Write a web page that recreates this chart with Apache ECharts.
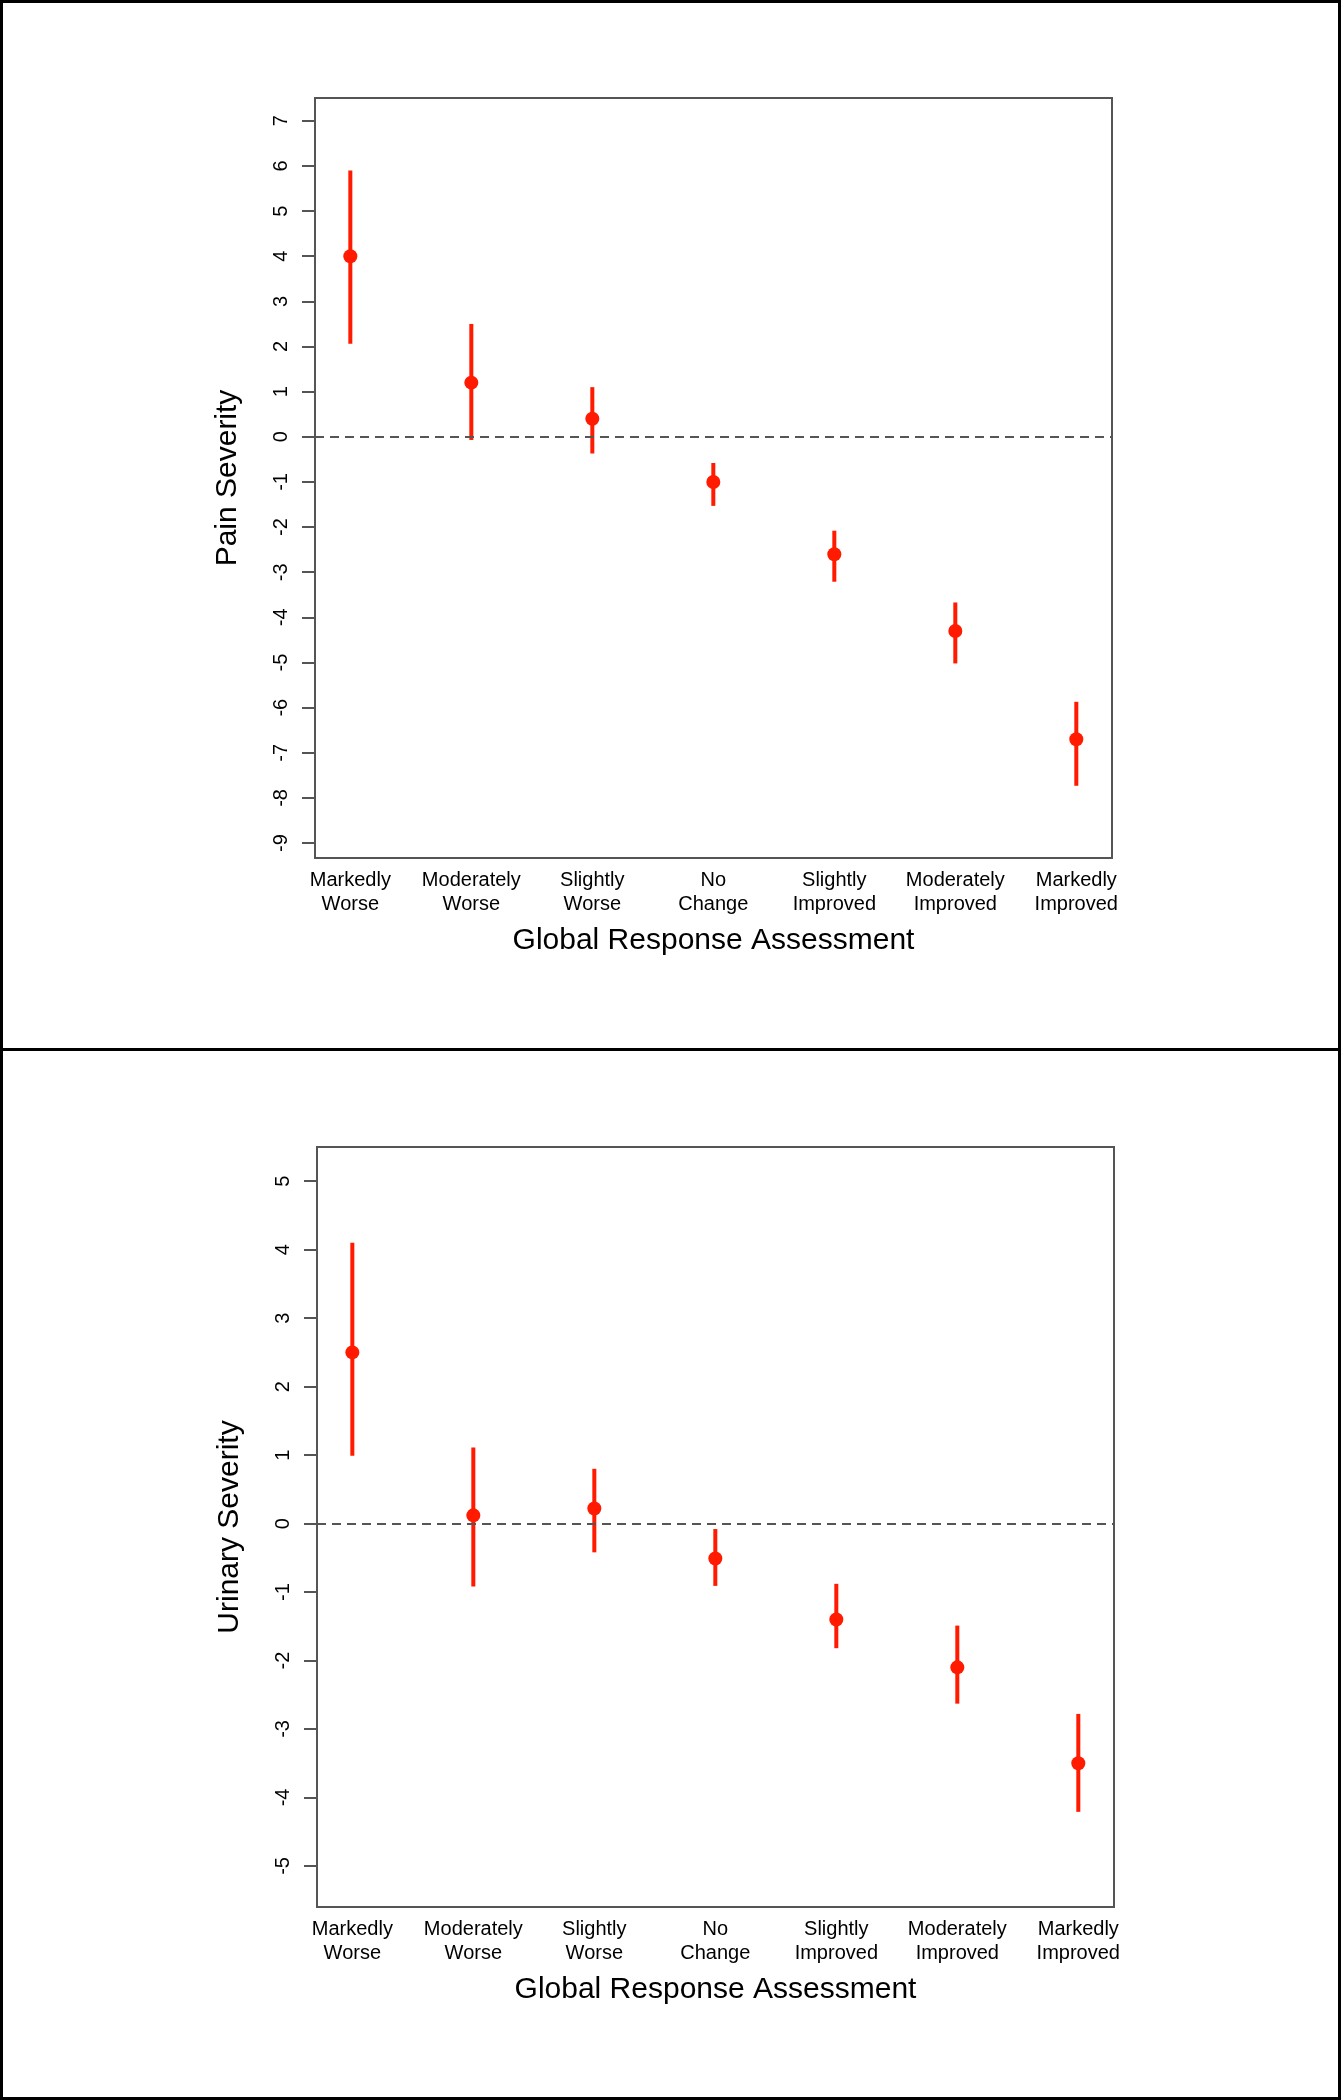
<!DOCTYPE html>
<html>
<head>
<meta charset="utf-8">
<script src="https://cdn.jsdelivr.net/npm/echarts@6/dist/echarts.min.js"></script>
<style>
html,body{margin:0;padding:0;background:#fff;}
#chart{width:1341px;height:2100px;}
</style>
</head>
<body>
<div id="chart"></div>
<script>
// ---- data ----
const categories = ['Markedly\nWorse', 'Moderately\nWorse', 'Slightly\nWorse', 'No\nChange', 'Slightly\nImproved', 'Moderately\nImproved', 'Markedly\nImproved'];
const xPositions = [1, 2, 3, 4, 5, 6, 7];

const painMean  = [4.0, 1.2, 0.4, -1.0, -2.6, -4.3, -6.7];
const painUpper = [5.9, 2.5, 1.1, -0.58, -2.08, -3.67, -5.87];
const painLower = [2.06, -0.07, -0.37, -1.53, -3.21, -5.02, -7.73];
const painTicks = [-9, -8, -7, -6, -5, -4, -3, -2, -1, 0, 1, 2, 3, 4, 5, 6, 7];

const urinMean  = [2.5, 0.12, 0.22, -0.51, -1.4, -2.1, -3.5];
const urinUpper = [4.1, 1.11, 0.8, -0.08, -0.88, -1.49, -2.78];
const urinLower = [0.99, -0.92, -0.42, -0.91, -1.82, -2.63, -4.21];
const urinTicks = [-5, -4, -3, -2, -1, 0, 1, 2, 3, 4, 5];

const xTitle = 'Global Response Assessment';
const painTitle = 'Pain Severity';
const urinTitle = 'Urinary Severity';

// ---- styling ----
const RED = '#ff1a00';
const GRAY = '#555555';
const FONT = 'Liberation Sans, Arial, Helvetica, sans-serif';

function xAxisFor(gridIndex) {
  return {
    gridIndex: gridIndex,
    type: 'value',
    min: 0.708, max: 7.295,
    name: xTitle,
    nameLocation: 'middle',
    nameGap: 68,
    nameTextStyle: {fontSize: 30, fontFamily: FONT, color: '#000'},
    axisLine: {show: false},
    axisTick: {show: false},
    splitLine: {show: false},
    axisLabel: {
      customValues: xPositions,
      formatter: function (v) { return categories[Math.round(v) - 1]; },
      fontSize: 20, lineHeight: 24, fontFamily: FONT, color: '#000',
      margin: 10
    }
  };
}

function yAxisFor(gridIndex, min, max, ticks, title) {
  return {
    gridIndex: gridIndex,
    type: 'value',
    min: min, max: max,
    name: title,
    nameLocation: 'middle',
    nameRotate: 90,
    nameGap: 72,
    nameTextStyle: {fontSize: 30, fontFamily: FONT, color: '#000'},
    axisLine: {show: false},
    splitLine: {show: false},
    axisTick: {show: true, customValues: ticks, length: 13, lineStyle: {color: GRAY, width: 2}},
    axisLabel: {
      customValues: ticks, rotate: 90, margin: 24,
      fontSize: 20, fontFamily: FONT, color: '#000'
    }
  };
}

function errorSeries(idx, lower, upper) {
  return {
    type: 'custom',
    xAxisIndex: idx, yAxisIndex: idx,
    data: xPositions.map((x, i) => [x, lower[i], upper[i]]),
    renderItem: function (params, api) {
      const p1 = api.coord([api.value(0), api.value(1)]);
      const p2 = api.coord([api.value(0), api.value(2)]);
      return {
        type: 'line',
        shape: {x1: p1[0], y1: p1[1], x2: p2[0], y2: p2[1]},
        style: {stroke: RED, lineWidth: 4, lineCap: 'butt'}
      };
    },
    z: 3
  };
}

function pointSeries(idx, mean) {
  return {
    type: 'scatter',
    xAxisIndex: idx, yAxisIndex: idx,
    data: xPositions.map((x, i) => [x, mean[i]]),
    symbol: 'circle',
    symbolSize: 14,
    itemStyle: {color: RED, opacity: 1},
    z: 4,
    markLine: {
      silent: true,
      symbol: ['none', 'none'],
      label: {show: false},
      lineStyle: {color: GRAY, width: 2, type: [9, 6]},
      data: [{yAxis: 0}],
      animation: false
    }
  };
}

const chart = echarts.init(document.getElementById('chart'), null, {renderer: 'canvas'});
chart.setOption({
  animation: false,
  backgroundColor: '#fff',
  grid: [
    {left: 315, top: 98, width: 797, height: 760, show: true, borderColor: GRAY, borderWidth: 2, backgroundColor: 'transparent'},
    {left: 317, top: 1147, width: 797, height: 760, show: true, borderColor: GRAY, borderWidth: 2, backgroundColor: 'transparent'}
  ],
  xAxis: [xAxisFor(0), xAxisFor(1)],
  yAxis: [
    yAxisFor(0, -9.33, 7.505, painTicks, painTitle),
    yAxisFor(1, -5.6, 5.5, urinTicks, urinTitle)
  ],
  series: [
    errorSeries(0, painLower, painUpper),
    pointSeries(0, painMean),
    errorSeries(1, urinLower, urinUpper),
    pointSeries(1, urinMean)
  ],
  graphic: [
    {type: 'rect', shape: {x: 1.5, y: 1.5, width: 1338, height: 2097}, style: {fill: 'none', stroke: '#000', lineWidth: 3}, silent: true},
    {type: 'line', shape: {x1: 0, y1: 1049.5, x2: 1341, y2: 1049.5}, style: {stroke: '#000', lineWidth: 3}, silent: true}
  ]
});
</script>
</body>
</html>
